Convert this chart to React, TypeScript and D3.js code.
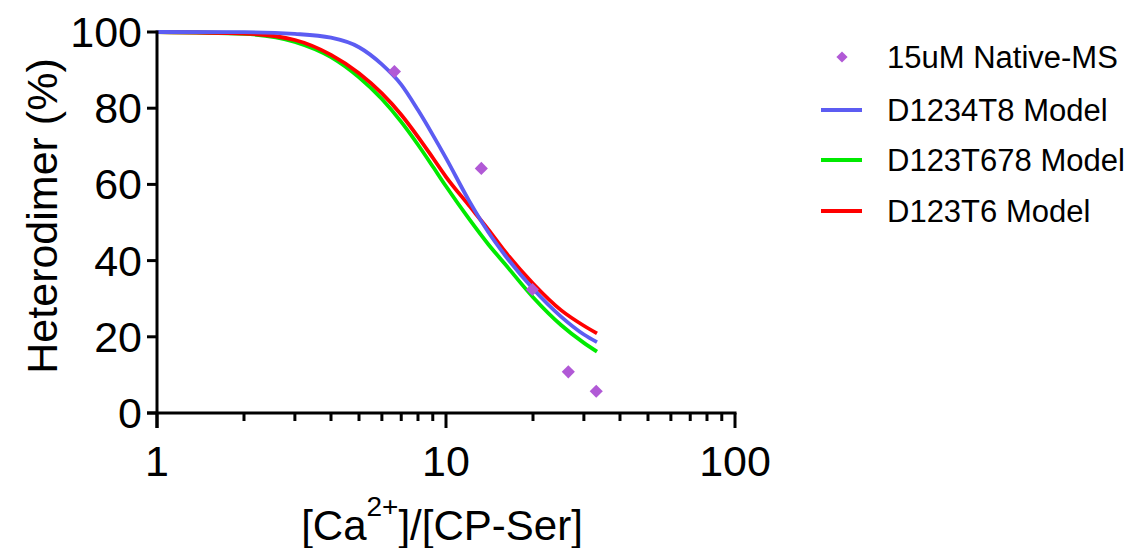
import React from "react";
import * as d3 from "d3";

const W = 1131;
const H = 548;

// Measured data points (15uM Native-MS)
const msX = [6.63, 13.25, 19.9, 26.5, 33.1];
const msY = [89.6, 64.2, 32.4, 10.8, 5.7];

// Model curves (shared x grid)
const modelX = [1, 2, 3, 4, 5, 6, 7, 8, 9, 10, 12, 14, 16, 20, 25, 30, 33.3];
const blueY = [100, 99.95, 99.5, 98.5, 96.0, 91.5, 86.2, 79.5, 73.0, 66.9, 55.8, 47.5, 41.4, 32.6, 25.3, 20.6, 18.6];
const greenY = [100, 99.5, 97.4, 93.4, 88.1, 82.4, 76.4, 70.4, 64.7, 59.5, 51.0, 44.3, 39.1, 30.4, 23.1, 18.4, 16.1];
const redY = [100, 99.6, 97.9, 94.0, 89.2, 83.9, 78.3, 72.5, 67.0, 62.0, 54.5, 48.2, 42.4, 34.0, 27.0, 22.9, 20.9];

const yTicks = [0, 20, 40, 60, 80, 100];
const xMajor = [1, 10, 100];
const xMinor = [2, 3, 4, 5, 6, 7, 8, 9, 20, 30, 40, 50, 60, 70, 80, 90];

const legendLabels = ["15uM Native-MS", "D1234T8 Model", "D123T678 Model", "D123T6 Model"];

const C_BLUE = "#5c5cf2";
const C_GREEN = "#00ea00";
const C_RED = "#ff0000";
const C_PURPLE = "#b159d6";

const FONT = "'Liberation Sans', Arial, sans-serif";

export default function App() {
  const x = d3.scaleLog().domain([1, 100]).range([157, 735]);
  const y = d3.scaleLinear().domain([0, 100]).range([413, 32]);

  const line = d3
    .line<[number, number]>()
    .x((d) => x(d[0]))
    .y((d) => y(d[1]))
    .curve(d3.curveMonotoneX);

  const series = [
    { ys: greenY, c: C_GREEN },
    { ys: redY, c: C_RED },
    { ys: blueY, c: C_BLUE },
  ];

  const diamond = d3.symbol().type(d3.symbolDiamond2).size(110)();

  const legendYs = [57, 110, 160, 211];
  const legendColors = [C_PURPLE, C_BLUE, C_GREEN, C_RED];

  return (
    <svg
      width={W}
      height={H}
      style={{ position: "absolute", left: 0, top: 0, background: "#fff" }}
      fontFamily={FONT}
    >
      <rect x={0} y={0} width={W} height={H} fill="#fff" />
      {/* curves */}
      {series.map((s, i) => (
        <path
          key={i}
          d={line(modelX.map((v, j) => [v, s.ys[j]] as [number, number])) || ""}
          fill="none"
          stroke={s.c}
          strokeWidth={3.8}
        />
      ))}
      {/* points */}
      {msX.map((v, i) => (
        <path key={i} d={diamond || ""} transform={`translate(${x(v)},${y(msY[i])})`} fill={C_PURPLE} />
      ))}
      {/* y axis */}
      <line x1={157} x2={157} y1={y(100) - 1.5} y2={428} stroke="#000" strokeWidth={3} />
      {yTicks.map((t) => (
        <g key={t}>
          <line x1={147} x2={157} y1={y(t)} y2={y(t)} stroke="#000" strokeWidth={3} />
          <text x={142} y={y(t)} textAnchor="end" dominantBaseline="central" fontSize={43}>
            {t}
          </text>
        </g>
      ))}
      {/* x axis */}
      <line x1={147} x2={x(100) + 1.5} y1={413} y2={413} stroke="#000" strokeWidth={3} />
      {xMajor.map((t) => (
        <g key={t}>
          <line x1={x(t)} x2={x(t)} y1={413} y2={428} stroke="#000" strokeWidth={3} />
          <text x={x(t)} y={476} textAnchor="middle" fontSize={43}>
            {t}
          </text>
        </g>
      ))}
      {xMinor.map((t) => (
        <line key={t} x1={x(t)} x2={x(t)} y1={413} y2={421} stroke="#000" strokeWidth={3} />
      ))}
      {/* axis titles */}
      <text x={442} y={540} textAnchor="middle" fontSize={42}>
        [Ca
        <tspan fontSize={28} dy={-24}>
          2+
        </tspan>
        <tspan dy={24}>]/[CP-Ser]</tspan>
      </text>
      <text transform={`translate(57,216) rotate(-90)`} textAnchor="middle" fontSize={43}>
        Heterodimer (%)
      </text>
      {/* legend */}
      {legendLabels.map((lab, i) => (
        <g key={lab}>
          {i === 0 ? (
            <path
              d={d3.symbol().type(d3.symbolDiamond2).size(80)() || ""}
              transform={`translate(842,${legendYs[i]})`}
              fill={legendColors[i]}
            />
          ) : (
            <line x1={821} x2={862} y1={legendYs[i]} y2={legendYs[i]} stroke={legendColors[i]} strokeWidth={3.8} />
          )}
          <text x={887} y={legendYs[i]} dominantBaseline="central" fontSize={31}>
            {lab}
          </text>
        </g>
      ))}
    </svg>
  );
}
